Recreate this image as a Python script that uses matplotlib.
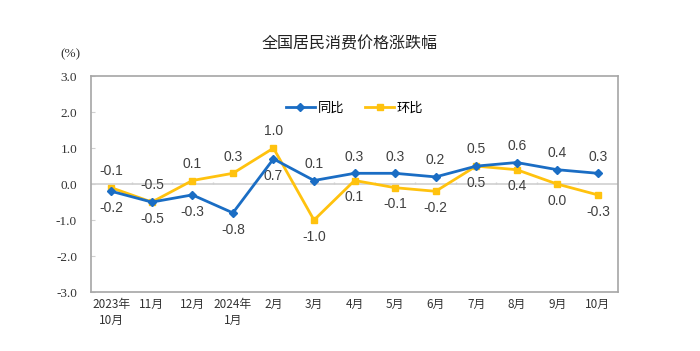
import matplotlib
matplotlib.use("Agg")
import matplotlib.pyplot as plt
import numpy as np

months = ["2023年\n10月", "11月", "12月", "2024年\n1月", "2月", "3月", "4月",
          "5月", "6月", "7月", "8月", "9月", "10月"]
yoy = [-0.2, -0.5, -0.3, -0.8, 0.7, 0.1, 0.3, 0.3, 0.2, 0.5, 0.6, 0.4, 0.3]
mom = [-0.1, -0.5, 0.1, 0.3, 1.0, -1.0, 0.1, -0.1, -0.2, 0.5, 0.4, 0.0, -0.3]
# label side: +1 above the point, -1 below
yoy_side = [-1, -1, -1, -1, -1, 1, 1, 1, 1, 1, 1, 1, 1]
mom_side = [1, 1, 1, 1, 1, -1, -1, -1, -1, -1, -1, -1, -1]
yticks = [-3.0, -2.0, -1.0, 0.0, 1.0, 2.0, 3.0]

CJK = ["Noto Sans CJK SC", "DejaVu Sans"]
BLUE = "#1a6dc4"
YELLOW = "#ffc20e"
GRAY = "#a6a6a6"

fig = plt.figure(figsize=(7.0, 3.51), dpi=100)
ax = fig.add_axes([0.13, 0.168, 0.753, 0.615])
x = np.arange(len(months))

ax.plot(x, yoy, color=BLUE, lw=2, marker="D", ms=4.5, label="同比", zorder=4)
ax.plot(x, mom, color=YELLOW, lw=2, marker="s", ms=5, label="环比", zorder=3)

for xs, vals, sides in [(x, yoy, yoy_side), (x, mom, mom_side)]:
    for xi, v, s in zip(xs, vals, sides):
        ax.annotate(f"{v:.1f}", (xi, v), xytext=(0, 12 * s), textcoords="offset points",
                    ha="center", va="center", fontsize=10, color="#404040",
                    family="Liberation Sans")

ax.set_xlim(-0.5, len(months) - 0.5)
ax.set_ylim(yticks[0], yticks[-1])
ax.set_yticks(yticks)
ax.set_yticklabels([f"{t:.1f}" for t in yticks], family="Liberation Serif", fontsize=9.5, color="#333333")
ax.set_xticks(x)
ax.set_xticklabels(months, family=CJK, fontsize=8.5, color="#333333", linespacing=1.3)
ax.tick_params(axis="x", length=0, pad=4)
ax.tick_params(axis="y", direction="in", length=3, color="#d0d0d0", pad=10)

# zero line with category boundary ticks
ax.axhline(0, color="#d0d0d0", lw=1.2, zorder=1)
ax.vlines(np.arange(len(months) - 1) + 0.5, 0, 0.07, color="#d0d0d0", lw=1, zorder=1)

for sp in ax.spines.values():
    sp.set_color(GRAY)
    sp.set_linewidth(1.2)

ax.legend(loc="center", bbox_to_anchor=(0.5, 0.85), ncol=2, frameon=False,
          prop={"family": CJK, "size": 9.5}, handlelength=2.2, columnspacing=1.6,
          handletextpad=0.2)

fig.text(0.5, 0.875, "全国居民消费价格涨跌幅", ha="center", va="center",
         family=CJK, fontsize=11.5, color="#222222")
fig.text(0.1, 0.845, "(%)", ha="center", va="center", family="Liberation Serif",
         fontsize=9.5, color="#333333")

fig.savefig("out.png", dpi=100)
